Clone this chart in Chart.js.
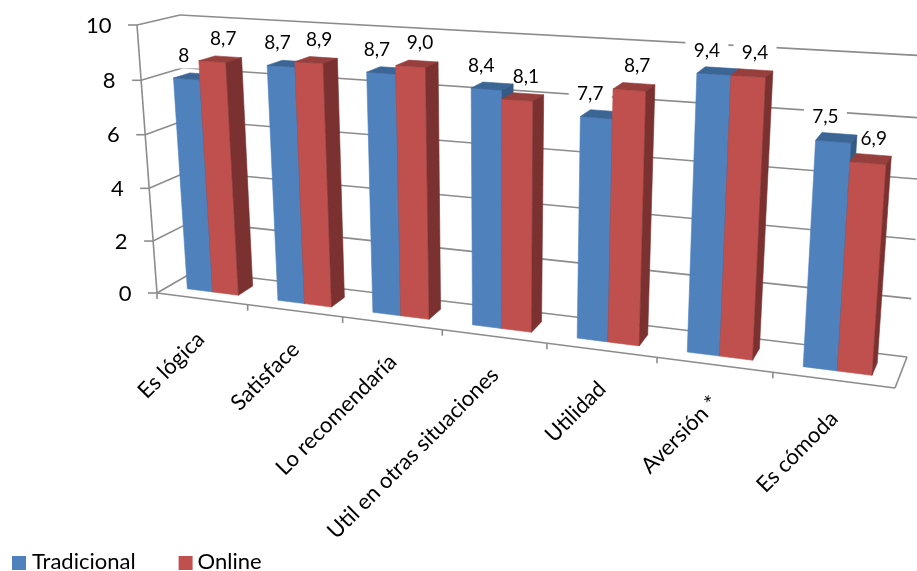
<!DOCTYPE html>
<html lang="es">
<head>
<meta charset="utf-8">
<title>Valoración por tipo de evaluación</title>
<style>
  html, body { margin: 0; padding: 0; background: #fff; }
  canvas { display: block; }
</style>
<script src="https://cdn.jsdelivr.net/npm/chart.js@4/dist/chart.umd.js"></script>
</head>
<body>
<canvas id="grafico" width="917" height="571"></canvas>
<script>
// Categories, series and their printed labels
const categorias = ['Es lógica', 'Satisface', 'Lo recomendaría', 'Util en otras situaciones', 'Utilidad', 'Aversión *', 'Es cómoda'];
const tradicional = [8, 8.7, 8.7, 8.4, 7.7, 9.4, 7.5];
const online = [8.7, 8.9, 9.0, 8.1, 8.7, 9.4, 6.9];
const etiquetasTradicional = ['8', '8,7', '8,7', '8,4', '7,7', '9,4', '7,5'];
const etiquetasOnline = ['8,7', '8,9', '9,0', '8,1', '8,7', '9,4', '6,9'];
const valorMaximo = 10;
const pasoEje = 2;

const FUENTE = 'Lato, Carlito, Calibri, sans-serif';

// Screen corners of the 3D box: front/back, top/bottom, left/right
const CAJA = {
  ftl: [137, 25],  ftr: [917, 73],
  fbl: [157, 293], fbr: [895, 388],
  btl: [180, 15],  btr: [929, 56],
  bbl: [195, 271], bbr: [907, 357]
};
const FUGA_X = 1.19;   // foreshortening along the category direction
const FUGA_Y = 1.04;   // foreshortening along the value direction
const FONDO_BARRA = [0.3, 0.7]; // depth range occupied by the bars
const DESVIO_ETIQUETA = [-11, 3]; // sideways nudge of value labels per series

const COLORES = {
  azul:  { frente: '#4F81BD', arriba: '#3B6595', lado: '#355A86' },
  rojo:  { frente: '#C0504D', arriba: '#963F3C', lado: '#7B312F' },
  rejilla: '#8C8C8C'
};

const lerp = (a, b, t) => a + (b - a) * t;

// Maps normalised box coordinates (u across, v up, w into the page) to canvas pixels
function proyectar(u, v, w) {
  const uu = u / (u + FUGA_X * (1 - u));
  const vv = v / (v + FUGA_Y * (1 - v));
  const eje = (i) => {
    const abajo = lerp(lerp(CAJA.fbl[i], CAJA.fbr[i], uu), lerp(CAJA.bbl[i], CAJA.bbr[i], uu), w);
    const arriba = lerp(lerp(CAJA.ftl[i], CAJA.ftr[i], uu), lerp(CAJA.btl[i], CAJA.btr[i], uu), w);
    return lerp(abajo, arriba, vv);
  };
  return [eje(0), eje(1)];
}

const normU = (chart, px) => (px - chart.scales.x.left) / (chart.scales.x.right - chart.scales.x.left);
const normV = (chart, py) => (chart.scales.y.bottom - py) / (chart.scales.y.bottom - chart.scales.y.top);

function linea(ctx, a, b) {
  ctx.beginPath();
  ctx.moveTo(a[0], a[1]);
  ctx.lineTo(b[0], b[1]);
  ctx.stroke();
}

function cara(ctx, puntos, color) {
  ctx.fillStyle = color;
  ctx.strokeStyle = color;
  ctx.lineWidth = 0.6;
  ctx.beginPath();
  puntos.forEach((p, i) => (i ? ctx.lineTo(p[0], p[1]) : ctx.moveTo(p[0], p[1])));
  ctx.closePath();
  ctx.fill();
  ctx.stroke();
}

// Walls, floor and tick marks of the box
function dibujarCaja(chart) {
  const ctx = chart.ctx;
  const { x, y } = chart.scales;
  ctx.save();
  ctx.strokeStyle = COLORES.rejilla;
  ctx.lineWidth = 1.6;
  y.ticks.forEach((t) => {
    const v = normV(chart, y.getPixelForValue(t.value));
    const frente = proyectar(0, v, 0);
    linea(ctx, frente, proyectar(0, v, 1));
    linea(ctx, proyectar(0, v, 1), proyectar(1, v, 1));
    linea(ctx, [frente[0] - 9, frente[1]], frente);
  });
  linea(ctx, proyectar(0, 0, 0), proyectar(0, 1, 0));
  linea(ctx, proyectar(0, 0, 0), proyectar(1, 0, 0));
  linea(ctx, proyectar(1, 0, 0), proyectar(1, 0, 1));
  const celda = (x.right - x.left) / categorias.length;
  for (let i = 0; i < categorias.length; i++) {
    const p = proyectar(normU(chart, x.getPixelForTick(i) - celda / 2), 0, 0);
    linea(ctx, p, [p[0], p[1] + 6]);
  }
  ctx.restore();
}

// Anchor of a value label: the middle of the bar's top face, nudged per series
function puntaBarra(chart, barra, serie) {
  const u = normU(chart, barra.x);
  const v = normV(chart, barra.y);
  const p = proyectar(u, v, (FONDO_BARRA[0] + FONDO_BARRA[1]) / 2);
  return [p[0] + DESVIO_ETIQUETA[serie], p[1]];
}

// White plates behind the value labels interrupt the gridlines
function dibujarFondosEtiquetas(chart) {
  const ctx = chart.ctx;
  ctx.save();
  ctx.fillStyle = '#fff';
  [0, 1].forEach((d) => {
    chart.getDatasetMeta(d).data.forEach((barra) => {
      const p = puntaBarra(chart, barra, d);
      ctx.fillRect(p[0] - 21.5, p[1] - 33, 43, 25);
    });
  });
  ctx.restore();
}

function dibujarBarra(chart, barra, color) {
  const ctx = chart.ctx;
  const u0 = normU(chart, barra.x - barra.width / 2);
  const u1 = normU(chart, barra.x + barra.width / 2);
  const v1 = normV(chart, barra.y);
  const [w0, w1] = FONDO_BARRA;
  cara(ctx, [proyectar(u0, 0, w0), proyectar(u1, 0, w0), proyectar(u1, v1, w0), proyectar(u0, v1, w0)], color.frente);
  cara(ctx, [proyectar(u0, v1, w0), proyectar(u1, v1, w0), proyectar(u1, v1, w1), proyectar(u0, v1, w1)], color.arriba);
  cara(ctx, [proyectar(u1, 0, w0), proyectar(u1, 0, w1), proyectar(u1, v1, w1), proyectar(u1, v1, w0)], color.lado);
}

function dibujarEtiquetas(chart) {
  const ctx = chart.ctx;
  ctx.save();
  ctx.font = '19px ' + FUENTE;
  ctx.fillStyle = '#000';
  ctx.textAlign = 'center';
  ctx.textBaseline = 'middle';
  [etiquetasTradicional, etiquetasOnline].forEach((textos, d) => {
    chart.getDatasetMeta(d).data.forEach((barra, i) => {
      const p = puntaBarra(chart, barra, d);
      ctx.fillText(textos[i], p[0], p[1] - 20.5);
    });
  });
  ctx.restore();
}

// Plugin that turns the flat bar layout into the 3D box projection
const perspectiva = {
  id: 'perspectiva',
  beforeDraw(chart) {
    const { x, y } = chart.scales;
    x.getLabelItems().forEach((item, i) => {
      const p = proyectar(normU(chart, x.getPixelForTick(i)), 0, 0);
      item.textOffset = 0;
      item.options.rotation = -Math.PI / 4;
      item.options.textAlign = 'right';
      item.options.textBaseline = 'middle';
      item.options.translation = [p[0] + (i === 0 ? -1 : 1), p[1] + (i === 0 ? 37 : 35)];
    });
    y.getLabelItems().forEach((item, i) => {
      const v = normV(chart, y.getPixelForValue(y.ticks[i].value));
      const p = proyectar(0, v, 0);
      item.textOffset = 0;
      item.options.textAlign = 'right';
      item.options.textBaseline = 'middle';
      item.options.translation = [p[0] - 25.5, p[1] + 0.5];
    });
    // Legend sits flush with the lower-left corner of the canvas
    const leyenda = chart.legend;
    const relleno = leyenda.options.labels.padding;
    if (!leyenda._colocada) {
      leyenda._desplazamiento = (12 - relleno) - leyenda.left;
      leyenda.left += leyenda._desplazamiento;
      leyenda.top = 551 - relleno;
      leyenda._colocada = true;
    }
  },
  beforeDatasetsDraw(chart) {
    dibujarCaja(chart);
    dibujarFondosEtiquetas(chart);
    const azul = chart.getDatasetMeta(0).data;
    const rojo = chart.getDatasetMeta(1).data;
    azul.forEach((barra, i) => {
      dibujarBarra(chart, barra, COLORES.azul);
      dibujarBarra(chart, rojo[i], COLORES.rojo);
    });
    dibujarEtiquetas(chart);
    return false;
  },
  afterDraw(chart) {
    const ctx = chart.ctx;
    const leyenda = chart.legend;
    ctx.save();
    [COLORES.azul.frente, COLORES.rojo.frente].forEach((color, i) => {
      ctx.fillStyle = color;
      ctx.fillRect(leyenda.legendHitBoxes[i].left + leyenda._desplazamiento + (i ? 1 : 0), 556, 14, 14);
    });
    ctx.restore();
  }
};

new Chart(document.getElementById('grafico'), {
  type: 'bar',
  data: {
    labels: categorias,
    datasets: [
      { label: 'Tradicional', data: tradicional, backgroundColor: COLORES.azul.frente, categoryPercentage: 0.57, barPercentage: 1 },
      { label: 'Online', data: online, backgroundColor: COLORES.rojo.frente, categoryPercentage: 0.57, barPercentage: 1 }
    ]
  },
  options: {
    responsive: false,
    animation: false,
    layout: { padding: 0 },
    plugins: {
      title: { display: false },
      tooltip: { enabled: false },
      legend: {
        display: true,
        position: 'bottom',
        align: 'start',
        labels: {
          color: '#000',
          font: { family: FUENTE, size: 22 },
          boxWidth: 9,
          boxHeight: 14,
          padding: 42,
          generateLabels(chart) {
            return chart.data.datasets.map((d, i) => ({
              text: d.label,
              fillStyle: 'transparent',
              strokeStyle: 'transparent',
              lineWidth: 0,
              datasetIndex: i
            }));
          }
        }
      }
    },
    scales: {
      x: {
        grid: { display: false },
        border: { display: false },
        ticks: {
          mirror: true,
          autoSkip: false,
          maxRotation: 45,
          minRotation: 45,
          color: '#000',
          font: { family: FUENTE, size: 22 }
        }
      },
      y: {
        min: 0,
        max: valorMaximo,
        grid: { display: false },
        border: { display: false },
        ticks: {
          mirror: true,
          stepSize: pasoEje,
          color: '#000',
          font: { family: FUENTE, size: 22 }
        }
      }
    }
  },
  plugins: [perspectiva]
});
</script>
</body>
</html>
